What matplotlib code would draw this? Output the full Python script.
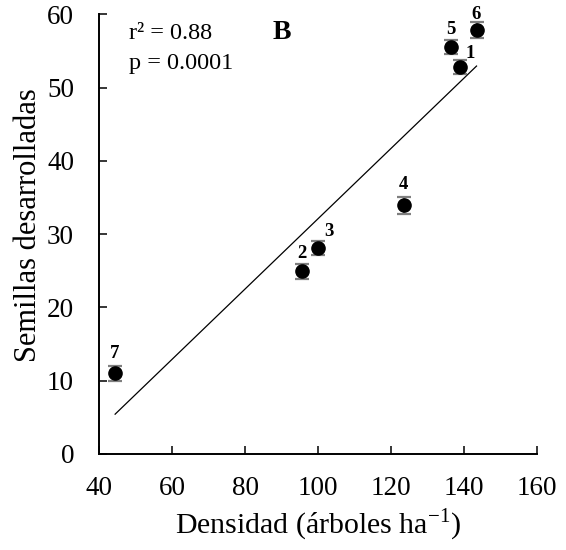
import numpy as np
import matplotlib
matplotlib.use("Agg")
import matplotlib.pyplot as plt

plt.rcParams['font.family'] = ['Liberation Serif', 'DejaVu Serif']
plt.rcParams['mathtext.fontset'] = 'custom'
plt.rcParams['mathtext.rm'] = 'Liberation Serif'

# datos
sitio = ['1', '2', '3', '4', '5', '6', '7']
densidad = np.array([139.0, 95.6, 100.0, 123.4, 136.3, 143.4, 44.4])
semillas = np.array([52.8, 24.9, 28.1, 33.9, 55.5, 57.9, 11.0])
error = np.array([1.0, 1.0, 1.0, 1.1, 0.95, 1.1, 1.0])
# desplazamiento de las etiquetas (puntos)
desp = [(7, 9.5), (0, 13), (8, 11.5), (0, 15), (0, 13), (0, 11), (0, 14.5)]

fig = plt.figure(figsize=(5.66, 5.5), dpi=100)
ax = fig.add_axes([0.175, 0.175, 0.774, 0.799])

# recta de regresion
m, b = np.polyfit(densidad, semillas, 1)
xs = np.array([densidad.min(), densidad.max()])
ax.plot(xs, m * xs + b, color='black', lw=0.9, zorder=1)

ax.errorbar(densidad, semillas, yerr=error, fmt='o', color='black',
            ecolor='#7f7f7f', elinewidth=1.6, capsize=4.8, capthick=1.6,
            markersize=9.5, zorder=3)

for s, x, y, d in zip(sitio, densidad, semillas, desp):
    ax.annotate(s, (x, y), xytext=d, textcoords='offset points',
                ha='center', va='center', fontsize=13.5, fontweight='bold')

ax.text(0.069, 0.957, 'r² = 0.88', transform=ax.transAxes, fontsize=17.5,
        ha='left', va='center')
ax.text(0.069, 0.889, 'p = 0.0001', transform=ax.transAxes, fontsize=17.5,
        ha='left', va='center')
ax.text(0.418, 0.959, 'B', transform=ax.transAxes, fontsize=20,
        fontweight='bold', ha='center', va='center')

ax.set_xlim(40, 160)
ax.set_ylim(0, 60)
ax.set_xticks(np.arange(40, 161, 20))
ax.set_yticks(np.arange(0, 61, 10))
ax.spines['top'].set_visible(False)
ax.spines['right'].set_visible(False)
for sp in ['left', 'bottom']:
    ax.spines[sp].set_linewidth(1.4)
ax.tick_params(axis='both', direction='in', length=5.5, width=1.1,
               labelsize=19.5)
ax.tick_params(axis='x', pad=16)
ax.tick_params(axis='y', pad=18)

ax.set_xlabel('Densidad (árboles ha$^{\\mathrm{-1}}$)', fontsize=21.5, labelpad=4)
ax.set_ylabel('Semillas desarrolladas', fontsize=22, labelpad=3, y=0.52)

fig.savefig('out.png', dpi=100)
